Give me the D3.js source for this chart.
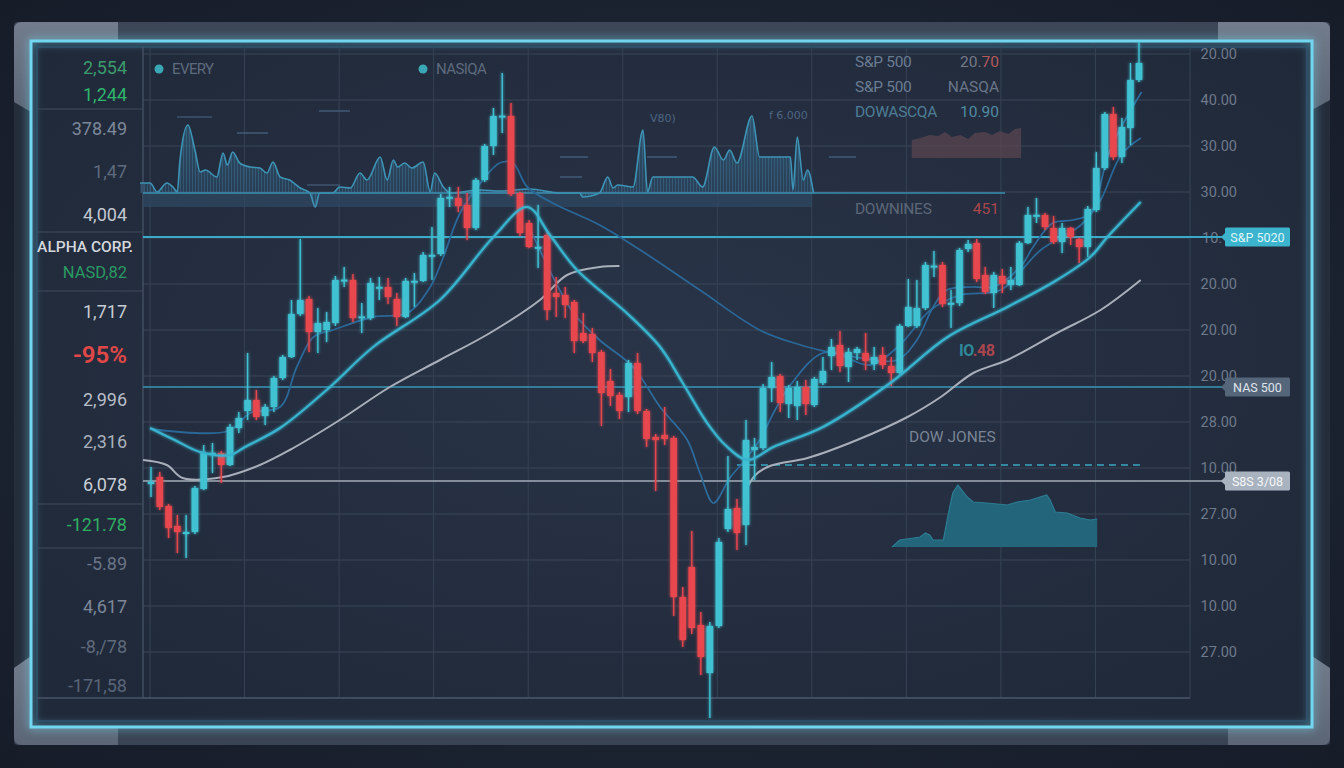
<!DOCTYPE html>
<html><head><meta charset="utf-8">
<script src="https://cdn.jsdelivr.net/npm/d3@7"></script>
<style>html,body{margin:0;padding:0;background:#1a2030;overflow:hidden}svg{display:block}</style>
</head><body><svg id="c" width="1344" height="768"></svg>
<script>
// ---------- DATA ----------
// candles: [open, high, low, close]
const candles = [
[53.8,57.75,50.25,54.0],[55.25,56.5,47,47.75],[48,48.5,40,42.5],[43,45.75,36.25,41.5],[41.3,45.75,35,41.5],
[41.5,53,41,52.5],[52.25,63.25,52,61.25],[61,63.75,56.25,61.3],[61.25,61.75,53.75,58.25],[58.25,68.5,58,67.75],
[67.5,71.5,66.25,70],[71.75,86.25,69.5,74.5],[74.5,77,69.5,70.25],[70.5,73.5,68.25,72.75],[72.75,80.5,71.5,80],
[80,85.75,79.5,85.25],[85.25,99.5,85,96],[96,114.75,95.5,99.5],[99.75,100.5,86.5,91.5],[91.5,97.5,86.25,93.75],
[92,96.5,89,94],[93.75,105.5,93,104.5],[104.4,107.75,102.75,104.6],[104.5,106,94,95],[95.2,98.75,91.25,95.4],
[95,105,94.5,103.75],[102.6,105.25,99.5,102.8],[102.75,105,98.5,100.25],[99.75,101.25,93,95.25],[95.25,105,95,104.25],
[104.1,106.25,97.75,104.3],[104.25,111.5,104,110.75],[110.6,117.75,104.5,110.8],[111,126,110.5,125],[125.1,127.75,122.75,125.3],
[125,127.75,121.5,123],[123.25,126.25,114.5,117.5],[117.5,130,117,129.5],[129.5,138.5,129,138],[138,147.5,135.75,145.5],
[145.4,156.25,141.25,145.6],[145.5,148.75,125.5,126],[126.25,126.5,115.5,116.25],[118.75,119.5,112.5,112.75],[112.6,123.25,107.5,112.8],
[115.75,116.5,94.5,97],[101.25,105.25,95.25,100.25],[100.75,102.75,95,98.25],[99,99.5,86.25,89.25],[91.25,96.25,88.75,89.25],
[91,92.5,84,86.25],[86.5,87,68,76.25],[79.25,82.25,73,75.5],[75.75,76.5,69.75,71.75],[75.25,84.5,71.5,83.75],
[83.75,86.25,71,71.75],[71.75,72.25,62.75,64.75],[65.25,66,51.75,64.5],[65.75,72.75,63.25,64.75],[65,65.5,20.5,25.25],
[25.25,27.75,12.75,14.5],[32.75,41.75,16,17.5],[18.25,21.5,5.75,10.25],[6.25,19,-5,18],[18,40,17.5,39],
[42.25,60.5,41.5,47.25],[47.5,49.75,37,41.25],[43.25,69.5,38.25,64.5],[62,65,54.5,62.75],[62.5,78.5,62,77.5],
[77.5,84,74,80.25],[80.5,81,71.5,73.75],[73.5,78.25,70,77.5],[73,79.25,69.5,77.75],[77.75,79.5,70.75,73.5],
[73.25,80.25,72.75,79.75],[78.75,85.25,78.25,81.75],[85.5,89.75,82,87.75],[88.25,91.75,81.5,83],[82.75,87.5,79,86.5],
[86.25,87.75,84.5,87.25],[86.25,91.25,82,84.25],[83.5,87.75,82,85.25],[85.75,87.75,82.25,83.25],[83,85.25,78,81.25],
[81.25,93.5,81,93],[93,104.75,92.75,97.75],[93,104.5,92.5,97.5],[97.5,109,97,108.25],[107.9,111.75,105.25,108.1],
[108.25,109,97.75,98.5],[98.6,102,92.5,98.8],[98.75,112.5,98,112],[112.25,114.5,111.5,113.5],[113.75,114.75,104,104.75],
[105.75,107.75,101,101.5],[101.25,106.5,97.5,105.75],[105.5,107.25,101.25,103.5],[103.25,107.75,102,104.5],[103.25,114.25,103,113.75],
[113.75,122.75,113.5,120.75],[120.6,125,118.75,120.8],[120.75,121.25,117,117.75],[117.5,120.5,113.5,114],[114,118.75,111.25,117.5],
[117.5,117.75,113.25,115.25],[114.75,115,108.75,112.75],[112.75,123,110.25,122.25],[122,136.5,121.5,132.5],[132.5,146.5,132,146],
[146,147.75,134.5,135.25],[135.25,145,133.75,142.75],[142.5,158.75,138.25,154.5],[154.5,164,154,158.75]
];
// moving-average style lines: [t, price]
const maCyan = [[-0.1,67.5],[2.7,64.5],[5.6,61.5],[9.0,60.75],[10.7,62.75],[14.7,67.5],[20.0,77],[25.3,87.75],[32.9,99.5],[39.0,115.25],[42.8,122.75],[45.3,115.75],[48.3,107],[53.8,96.25],[57.5,87.75],[60.0,78.75],[62.7,68.75],[64.7,63.25],[67.2,59.5],[70.2,62.75],[76.0,67.75],[83.9,78.75],[90.6,90.25],[97.6,97.75],[103.4,104.5],[107.3,110.25],[109.3,115.25],[113.2,124]];
const maLong = [[-0.1,67.25],[8.8,66.75],[11.3,71.25],[14.7,72.75],[16.6,82.75],[18.5,90.25],[20.7,92],[25.3,95.25],[29.2,96.25],[31.8,102.75],[33.3,110.25],[35.2,121.25],[37.8,129.5],[39.7,133.75],[41.2,133.75],[42.8,127.75],[45.6,123.75],[50.8,118.25],[55.3,112],[61.9,102],[68.6,92],[73.4,88.25],[78.0,85.75],[81.5,83.25],[85.0,88.25],[88.6,97],[92.1,100.75],[96.8,102],[101.5,112],[106.2,118.25],[108.5,124.5],[110.9,135.75],[113.2,140]];
const maFast = [[42.9,118.25],[46.1,103.25],[47.9,96.25],[50.8,89.5],[54.5,82.75],[57.5,72.75],[60.5,64.5],[61.9,56.25],[63.4,48.75],[65.2,55],[66.9,59.5],[68.6,64.5],[70.4,72],[72.2,78.25],[76.0,86.25],[80.4,85],[84.7,84.5],[87.0,89.5],[88.9,97.75],[90.5,102],[93.6,102.75],[95.9,102.75],[99.1,107.75],[100.6,112.75],[102.9,118.75],[105.3,119.5],[107.3,121.25],[109.6,137],[113.3,151.5]];
const maGrey = [[-0.9,59.5],[1.8,58.25],[3.6,55],[8.2,55.25],[12.4,58.25],[15.8,62],[21.5,69.5],[27.2,77.75],[32.9,84.5],[38.6,91.25],[44.2,99.5],[47.2,105.75],[50.8,107.75],[53.0,108],[60,null],[66.9,51.5],[68.1,55.75],[69.8,58],[74.2,60],[80.0,64.5],[85.9,70.25],[89.8,75.25],[93.6,81.25],[97.6,84.5],[103.4,91.25],[108.5,97],[113.2,104.5]];
// reference levels
const levelSP = 115.25, levelNAS = 77.75, levelSSS = 54.25, levelDash = 58.25;
// top sparkline: [t, value]
const sparkData = [[-1.25,10],[-0.1,10],[0.7,1],[1.8,10],[2.5,6],[3.0,1],[3.3,33],[4.2,68],[5.0,43],[5.6,21],[6.2,23],[7.5,16],[8.2,40],[8.7,28],[9.3,41],[10.1,30],[11.3,26],[12.4,25],[13.2,20],[13.9,31],[14.7,16],[15.8,13],[17.0,5],[18.1,0],[18.7,-14],[19.2,0],[20.7,0],[21.5,6],[22.7,5],[23.8,20],[24.6,13],[26.1,36],[26.9,13],[27.6,33],[28.1,26],[28.9,30],[29.7,25],[31.0,31],[31.8,1],[32.3,20],[33.3,6],[34.1,0],[37.5,3],[39.7,2],[43.1,4],[46.4,0],[48.6,0],[48.9,-4],[50.8,0],[51.7,16],[52.3,5],[52.8,8],[54.5,6],[55.6,63],[56.1,1],[56.7,16],[61.1,16],[62.2,6],[63.5,46],[64.5,33],[65.2,43],[66.0,30],[67.7,77],[68.6,36],[72.2,36],[72.5,3],[73.0,56],[73.7,13],[74.2,23],[74.9,0]];
// bottom-right area: [t, value]
const volData = [[84.1,0],[85.0,7],[86.6,9],[87.4,10],[88.0,14],[88.5,12],[88.9,7],[90.1,7],[90.7,34],[91.2,54],[91.8,62],[92.9,50],[93.6,45],[95.2,44],[97.6,42],[98.7,45],[100.3,47],[102.2,52],[102.6,47],[103.2,35],[104.6,34],[106.1,29],[107.3,27],[108.1,28]];
// top-right small area: [t, value]
const miniData = [[86.4,18],[87.4,20],[88.5,23],[89.5,22],[90.3,26],[91.1,21],[92.1,23],[93.0,19],[93.8,25],[95.0,26],[95.8,23],[96.7,27],[97.7,24],[98.5,29],[99.2,30]];
// text
const rightTicks = ["20.00","40.00","30.00","30.00","10.","20.00","20.00","20.00","28.00","10.00","27.00","10.00","10.00","27.00"];
const leftLabels = ["2,554","1,244","378.49","1,47","4,004","ALPHA CORP.","NASD,82","1,717","-95%","2,996","2,316","6,078","-121.78","-5.89","4,617","-8,/78","-171,58"];
const legendNames = ["EVERY","NASIQA"];
const infoRows = [["S&P 500","20.","70"],["S&P 500","NASQA",""],["DOWASCQA","10.90",""],["DOWNINES","451",""]];
const tagNames = ["S&P 5020","NAS 500","S8S 3/08"];

// ---------- DRAW ----------
const svg = d3.select('#c');
const defs = svg.append('defs');
function glow(id, sd){
  const f = defs.append('filter').attr('id',id).attr('x','-10%').attr('y','-10%').attr('width','120%').attr('height','120%');
  f.append('feGaussianBlur').attr('in','SourceGraphic').attr('stdDeviation',sd).attr('result','b');
  const m = f.append('feMerge'); m.append('feMergeNode').attr('in','b'); m.append('feMergeNode').attr('in','SourceGraphic');
}
glow('glowBig',5); glow('glowSm',1.6);
const bg = defs.append('radialGradient').attr('id','bg').attr('cx','50%').attr('cy','50%').attr('r','70%');
bg.append('stop').attr('offset','0%').attr('stop-color','#252e40');
bg.append('stop').attr('offset','100%').attr('stop-color','#161c28');
const pg = defs.append('radialGradient').attr('id','pg').attr('cx','50%').attr('cy','45%').attr('r','65%');
pg.append('stop').attr('offset','0%').attr('stop-color','#293448');
pg.append('stop').attr('offset','100%').attr('stop-color','#202939');
const cg = defs.append('linearGradient').attr('id','corner').attr('x1','0').attr('y1','0').attr('x2','0').attr('y2','1');
cg.append('stop').attr('offset','0%').attr('stop-color','#727c8c');
cg.append('stop').attr('offset','100%').attr('stop-color','#5b6575');
const sg = defs.append('linearGradient').attr('id','spk').attr('x1','0').attr('y1','0').attr('x2','0').attr('y2','1');
sg.append('stop').attr('offset','0%').attr('stop-color','#3b7fa3').attr('stop-opacity',0.45);
sg.append('stop').attr('offset','100%').attr('stop-color','#2d5676').attr('stop-opacity',0.35);
const pat = defs.append('pattern').attr('id','stripes').attr('width',3).attr('height',4).attr('patternUnits','userSpaceOnUse');
pat.append('rect').attr('width',1).attr('height',4).attr('fill','#4f8fb3').attr('opacity',0.3);

svg.append('rect').attr('width',1344).attr('height',768).attr('fill','url(#bg)');

// monitor frame
svg.append('rect').attr('x',14).attr('y',22).attr('width',1316).attr('height',723).attr('rx',8).attr('fill','#252d3b');
svg.append('rect').attr('x',14).attr('y',22).attr('width',1316).attr('height',19).attr('rx',4).attr('fill','#3c4656');
svg.append('rect').attr('x',14).attr('y',727).attr('width',1316).attr('height',18).attr('rx',4).attr('fill','#3a4353');
const corners = [
 "M14,30 Q14,22 22,22 L118,22 L118,41 L31,41 L31,112 L14,102 Z",
 "M1218,22 L1322,22 Q1330,22 1330,30 L1330,100 L1312,110 L1312,41 L1218,41 Z",
 "M14,668 L31,656 L31,727 L118,727 L118,745 L22,745 Q14,745 14,737 Z",
 "M1330,668 L1312,656 L1312,727 L1228,727 L1228,745 L1322,745 Q1330,745 1330,737 Z"];
svg.selectAll('path.corner').data(corners).join('path').attr('class','corner').attr('d',d=>d).attr('fill','url(#corner)');

// panel
svg.append('rect').attr('x',31).attr('y',41).attr('width',1281).attr('height',686).attr('fill','url(#pg)');
svg.append('rect').attr('x',31).attr('y',41).attr('width',1281).attr('height',686).attr('fill','none')
  .attr('stroke','#72d6f0').attr('stroke-width',3).attr('filter','url(#glowBig)');
svg.append('rect').attr('x',37).attr('y',47).attr('width',1270).attr('height',674).attr('fill','none')
  .attr('stroke','#2f5b78').attr('stroke-width',1.2);

// scales
const x = d3.scaleLinear().domain([0,41,67,113]).range([151,511,746,1139]);
const y = d3.scaleLinear().domain([0,161]).range([698,54]);
const sy = d3.scaleLinear().domain([0,80]).range([193,113]);
const vy = d3.scaleLinear().domain([0,62]).range([547,485]);
const my = d3.scaleLinear().domain([0,30]).range([158,128]);
const gx = d3.scaleLinear().domain([0,11]).range([150,1190]);

// grid
const gridVals = d3.range(0,161.1,11.5);
svg.append('g').selectAll('line').data(gridVals).join('line')
  .attr('x1',143).attr('x2',1190).attr('y1',d=>y(d)).attr('y2',d=>y(d))
  .attr('stroke','#3a4659').attr('stroke-width',1);
svg.append('g').selectAll('line').data(d3.range(12)).join('line')
  .attr('x1',d=>gx(d)).attr('x2',d=>gx(d)).attr('y1',47).attr('y2',698)
  .attr('stroke','#364255').attr('stroke-width',1);
svg.append('line').attr('x1',37).attr('x2',1190).attr('y1',698).attr('y2',698).attr('stroke','#475368').attr('stroke-width',1.3);
svg.append('line').attr('x1',143).attr('x2',143).attr('y1',47).attr('y2',698).attr('stroke','#475368').attr('stroke-width',1.3);
// left column dividers
svg.append('g').selectAll('line').data([109,232,291,504,548]).join('line')
  .attr('x1',37).attr('x2',143).attr('y1',d=>d).attr('y2',d=>d).attr('stroke','#3f4a5c').attr('stroke-width',1.2);

// right tick labels
svg.append('g').selectAll('text').data(rightTicks).join('text')
  .attr('x',(d,i)=> i===4 ? 1202 : 1237).attr('y',(d,i)=>y(gridVals[gridVals.length-1-i]))
  .attr('text-anchor',(d,i)=> i===4 ? 'start' : 'end').attr('dominant-baseline','central')
  .attr('font-family','Roboto, sans-serif').attr('font-size',14.5).attr('fill','#6f798a').text(d=>d);

// top sparkline
svg.append('rect').attr('x',143).attr('y',sy(0)).attr('width',669).attr('height',14).attr('fill','#2f4862').attr('opacity',0.75);
const sArea = d3.area().x(d=>x(d[0])).y0(sy(0)).y1(d=>sy(d[1])).curve(d3.curveMonotoneX);
const sLine = d3.line().x(d=>x(d[0])).y(d=>sy(d[1])).curve(d3.curveMonotoneX);
svg.append('path').datum(sparkData).attr('d',sArea).attr('fill','url(#spk)');
svg.append('path').datum(sparkData).attr('d',sArea).attr('fill','url(#stripes)');
svg.append('path').datum(sparkData).attr('d',sLine).attr('fill','none').attr('stroke','#3e94b6').attr('stroke-width',1.6);
svg.append('line').attr('x1',143).attr('x2',1005).attr('y1',sy(0)).attr('y2',sy(0)).attr('stroke','#3a8fb0').attr('stroke-width',1.6);
// faint annotation dashes
const dashes = [[177,212,117],[237,268,133],[319,350,111],[307,340,185],[560,588,157],[560,582,177],[647,677,157],[829,856,157]];
svg.append('g').selectAll('line').data(dashes).join('line')
  .attr('x1',d=>d[0]).attr('x2',d=>d[1]).attr('y1',d=>d[2]).attr('y2',d=>d[2]).attr('stroke','#4a6784').attr('stroke-width',1.2);
svg.append('text').attr('x',650).attr('y',122).attr('font-family','DejaVu Sans, sans-serif').attr('font-size',11).attr('fill','#4f6580').text('V80)');
svg.append('text').attr('x',769).attr('y',119).attr('font-family','DejaVu Sans, sans-serif').attr('font-size',11).attr('fill','#4f6580').text('f 6.000');

// legend
const lg = svg.append('g').selectAll('g').data(legendNames).join('g').attr('transform',(d,i)=>`translate(${i?423:159},69)`);
lg.append('circle').attr('r',4.5).attr('fill','#3aa6b6');
lg.append('text').attr('x',13).attr('dominant-baseline','central').attr('font-family','Roboto, sans-serif')
  .attr('font-size',15).attr('letter-spacing',-0.6).attr('fill','#5e6a7d').text(d=>d);

// top-right info
const infoY = [62,87,112,209];
const infoColors = [["#6a7c92","#767a88","#b45a5a"],["#6a7c92","#6a7588",""],["#4e7d96","#4f8ba2",""],["#5d6778","#a8484c",""]];
infoRows.forEach((r,i)=>{
  svg.append('text').attr('x',855).attr('y',infoY[i]).attr('dominant-baseline','central')
    .attr('font-family','Roboto, sans-serif').attr('font-size',15.5).attr('letter-spacing',-0.3).attr('fill',infoColors[i][0]).text(r[0]);
  const t = svg.append('text').attr('x',999).attr('y',infoY[i]).attr('text-anchor','end').attr('dominant-baseline','central')
    .attr('font-family','Roboto, sans-serif').attr('font-size',15.5).attr('fill',infoColors[i][1]);
  t.append('tspan').text(r[1]);
  if(r[2]) t.append('tspan').attr('fill',infoColors[i][2]).text(r[2]);
});
// mini area top-right
const mArea = d3.area().x(d=>x(d[0])).y0(my(0)).y1(d=>my(d[1]));
svg.append('path').datum(miniData).attr('d',mArea).attr('fill','#5a4650').attr('opacity',0.75);

// bottom-right area
const vArea = d3.area().x(d=>x(d[0])).y0(vy(0)).y1(d=>vy(d[1]));
svg.append('path').datum(volData).attr('d',vArea).attr('fill','#23667b');
svg.append('path').datum(volData).attr('d',d3.line().x(d=>x(d[0])).y(d=>vy(d[1]))).attr('fill','none').attr('stroke','#2c7d94').attr('stroke-width',1.2);

// labels in plot
svg.append('text').attr('x',909).attr('y',437).attr('dominant-baseline','central').attr('font-family','Roboto, sans-serif')
  .attr('font-size',15.5).attr('fill','#7a8494').text('DOW JONES');
const io = svg.append('text').attr('x',959).attr('y',350).attr('dominant-baseline','central').attr('font-family','Roboto, sans-serif')
  .attr('font-size',16).attr('font-weight',700).attr('letter-spacing',-0.5);
io.append('tspan').attr('fill','#2e8a99').text('IO');
io.append('tspan').attr('fill','#a9454f').text('.48');

// reference lines
const lvl = [[levelSP,'#3aaac6',1.8],[levelNAS,'#3996b6',1.5],[levelSSS,'#a5adb8',1.6]];
svg.append('g').selectAll('line').data(lvl).join('line')
  .attr('x1',143).attr('x2',1222).attr('y1',d=>y(d[0])).attr('y2',d=>y(d[0]))
  .attr('stroke',d=>d[1]).attr('stroke-width',d=>d[2]);
svg.append('line').attr('x1',x(66)).attr('x2',x(113.3)).attr('y1',y(levelDash)).attr('y2',y(levelDash))
  .attr('stroke','#3aa6c2').attr('stroke-width',1.5).attr('stroke-dasharray','7,5');

// MA lines
const line = d3.line().defined(d=>d[1]!==null).x(d=>x(d[0])).y(d=>y(d[1])).curve(d3.curveCatmullRom.alpha(0.5));
svg.append('path').datum(maGrey).attr('d',line).attr('fill','none').attr('stroke','#a8afba').attr('stroke-width',2);
svg.append('path').datum(maLong).attr('d',line).attr('fill','none').attr('stroke','#2a6797').attr('stroke-width',1.8);
svg.append('path').datum(maFast).attr('d',line).attr('fill','none').attr('stroke','#2c6b9c').attr('stroke-width',1.7);

// candles
const bw = 6.6;
const cg2 = svg.append('g').attr('filter','url(#glowSm)');
const cs = cg2.selectAll('g').data(candles).join('g');
const col = d=> d[3]>=d[0] ? '#3fc2d3' : '#e8464e';
cs.append('line').attr('x1',(d,i)=>x(i)).attr('x2',(d,i)=>x(i)).attr('y1',d=>y(d[1])).attr('y2',d=>y(d[2]))
  .attr('stroke',col).attr('stroke-width',1.4);
cs.append('rect').attr('x',(d,i)=>x(i)-bw/2).attr('width',bw)
  .attr('y',d=>y(Math.max(d[0],d[3])))
  .attr('height',d=>Math.max(2,Math.abs(y(d[0])-y(d[3]))))
  .attr('fill',col);

svg.append('path').datum(maCyan).attr('d',line).attr('fill','none').attr('stroke','#38b4cf').attr('stroke-width',2.2).attr('filter','url(#glowSm)');

// tags
const tagLevels = [levelSP, levelNAS, levelSSS];
const tagFill = ['#3cb4ce','#55667b','#a9b3bf'];
const tagText = ['#dff6fb','#dfe4ea','#f4f6f8'];
const tg = svg.append('g').selectAll('g').data(tagNames).join('g').attr('transform',(d,i)=>`translate(1225,${y(tagLevels[i])})`);
tg.append('path').attr('d','M-4,0 L1,-5 L1,5 Z').attr('fill',(d,i)=>tagFill[i]);
tg.append('rect').attr('x',0).attr('y',-9.5).attr('width',65).attr('height',19).attr('rx',1.5).attr('fill',(d,i)=>tagFill[i]);
tg.append('text').attr('x',32.5).attr('text-anchor','middle').attr('dominant-baseline','central')
  .attr('font-family','Roboto, sans-serif').attr('font-size',12.5).attr('fill',(d,i)=>tagText[i]).text(d=>d);

// left column labels
const leftY = [67,94,128,171,214,247,272,311,355,399,441,484,524,563,606,646,685];
const leftStyle = [
 ['#3d9a6c',18,400],['#2fb56e',18,400],['#7d889a',18,400],['#5f6a7c',18,400],['#c3c8d0',18,400],
 ['#d4d8de',15.5,500],['#2a9a62',16.5,400],['#c8ccd4',18,400],['#e04848',24,600],['#b8bec8',18,400],
 ['#a8afba',18,400],['#c8ccd4',18,400],['#2fae62',18,400],['#6a7486',18,400],['#7d8798',18,400],
 ['#5f6a7c',18,400],['#5a6578',18,400]];
svg.append('g').selectAll('text').data(leftLabels).join('text')
  .attr('x',(d,i)=> i===5 ? 133 : 127).attr('y',(d,i)=>leftY[i])
  .attr('text-anchor','end').attr('dominant-baseline','central')
  .attr('font-family','Roboto, sans-serif')
  .attr('font-size',(d,i)=>leftStyle[i][1]).attr('font-weight',(d,i)=>leftStyle[i][2])
  .attr('fill',(d,i)=>leftStyle[i][0]).text(d=>d);
</script></body></html>
